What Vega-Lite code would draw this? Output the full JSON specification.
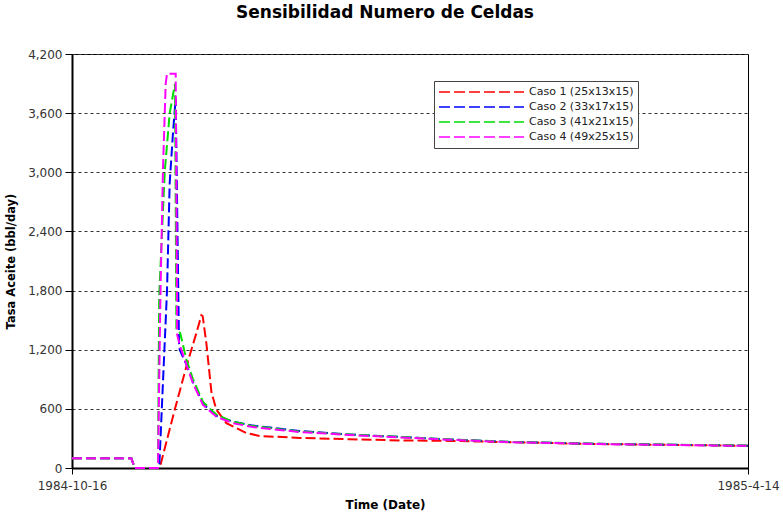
{
  "$schema": "https://vega.github.io/schema/vega-lite/v6.json",
  "width": 676,
  "height": 414,
  "autosize": {"type": "none"},
  "padding": {"left": 72, "top": 54, "right": 35, "bottom": 46},
  "background": "white",
  "title": {
    "text": "Sensibilidad Numero de Celdas",
    "font": "DejaVu Sans",
    "fontSize": 17,
    "fontWeight": "bold",
    "color": "#000000",
    "anchor": "middle",
    "dx": -25,
    "offset": 26
  },
  "config": {
    "font": "DejaVu Sans",
    "view": {"stroke": "#000000", "strokeWidth": 1},
    "axis": {
      "domainColor": "#000000",
      "domainWidth": 2,
      "tickColor": "#000000",
      "tickWidth": 1,
      "labelColor": "#333333",
      "labelFont": "DejaVu Sans",
      "labelFontSize": 12,
      "titleFont": "DejaVu Sans",
      "titleFontSize": 12,
      "titleFontWeight": "bold",
      "titleColor": "#000000"
    },
    "legend": {
      "orient": "none",
      "legendX": 362,
      "legendY": 27,
      "fillColor": "#ffffff",
      "strokeColor": "#444444",
      "padding": 4,
      "symbolType": "stroke",
      "symbolSize": 7225,
      "symbolStrokeWidth": 1.5,
      "symbolDash": [11, 4],
      "clipHeight": 14,
      "rowPadding": 1,
      "labelFont": "DejaVu Sans",
      "labelFontSize": 11,
      "labelColor": "#222222",
      "labelOffset": 4
    }
  },
  "data": {
    "values": [
      {"caso": "Caso 1 (25x13x15)", "fecha": "1984-10-16T00:00", "tasa": 100},
      {"caso": "Caso 1 (25x13x15)", "fecha": "1984-10-31T19:00", "tasa": 100},
      {"caso": "Caso 1 (25x13x15)", "fecha": "1984-11-01T17:00", "tasa": 0},
      {"caso": "Caso 1 (25x13x15)", "fecha": "1984-11-08T08:30", "tasa": 0},
      {"caso": "Caso 1 (25x13x15)", "fecha": "1984-11-09T05:30", "tasa": 130},
      {"caso": "Caso 1 (25x13x15)", "fecha": "1984-11-12T08:20", "tasa": 590},
      {"caso": "Caso 1 (25x13x15)", "fecha": "1984-11-15T11:00", "tasa": 1030},
      {"caso": "Caso 1 (25x13x15)", "fecha": "1984-11-18T03:00", "tasa": 1370},
      {"caso": "Caso 1 (25x13x15)", "fecha": "1984-11-19T11:00", "tasa": 1550},
      {"caso": "Caso 1 (25x13x15)", "fecha": "1984-11-19T19:15", "tasa": 1540},
      {"caso": "Caso 1 (25x13x15)", "fecha": "1984-11-20T19:00", "tasa": 1260},
      {"caso": "Caso 1 (25x13x15)", "fecha": "1984-11-22T03:00", "tasa": 770},
      {"caso": "Caso 1 (25x13x15)", "fecha": "1984-11-23T10:50", "tasa": 590},
      {"caso": "Caso 1 (25x13x15)", "fecha": "1984-11-26T02:40", "tasa": 455},
      {"caso": "Caso 1 (25x13x15)", "fecha": "1984-12-01T10:30", "tasa": 355},
      {"caso": "Caso 1 (25x13x15)", "fecha": "1984-12-04T23:30", "tasa": 325},
      {"caso": "Caso 1 (25x13x15)", "fecha": "1984-12-15T15:00", "tasa": 305},
      {"caso": "Caso 1 (25x13x15)", "fecha": "1984-12-28T22:30", "tasa": 292},
      {"caso": "Caso 1 (25x13x15)", "fecha": "1985-01-11T06:00", "tasa": 280},
      {"caso": "Caso 1 (25x13x15)", "fecha": "1985-01-24T13:30", "tasa": 275},
      {"caso": "Caso 1 (25x13x15)", "fecha": "1985-02-09T13:00", "tasa": 262},
      {"caso": "Caso 1 (25x13x15)", "fecha": "1985-03-05T12:00", "tasa": 243},
      {"caso": "Caso 1 (25x13x15)", "fecha": "1985-04-14T00:00", "tasa": 225},

      {"caso": "Caso 2 (33x17x15)", "fecha": "1984-10-16T00:00", "tasa": 100},
      {"caso": "Caso 2 (33x17x15)", "fecha": "1984-10-31T19:00", "tasa": 100},
      {"caso": "Caso 2 (33x17x15)", "fecha": "1984-11-01T17:00", "tasa": 0},
      {"caso": "Caso 2 (33x17x15)", "fecha": "1984-11-08T05:15", "tasa": 0},
      {"caso": "Caso 2 (33x17x15)", "fecha": "1984-11-09T16:30", "tasa": 1270},
      {"caso": "Caso 2 (33x17x15)", "fecha": "1984-11-10T07:10", "tasa": 1800},
      {"caso": "Caso 2 (33x17x15)", "fecha": "1984-11-11T00:15", "tasa": 2890},
      {"caso": "Caso 2 (33x17x15)", "fecha": "1984-11-11T21:20", "tasa": 3400},
      {"caso": "Caso 2 (33x17x15)", "fecha": "1984-11-12T14:40", "tasa": 3750},
      {"caso": "Caso 2 (33x17x15)", "fecha": "1984-11-13T11:45", "tasa": 1265},
      {"caso": "Caso 2 (33x17x15)", "fecha": "1984-11-13T16:15", "tasa": 1200},
      {"caso": "Caso 2 (33x17x15)", "fecha": "1984-11-15T11:00", "tasa": 1050},
      {"caso": "Caso 2 (33x17x15)", "fecha": "1984-11-17T05:15", "tasa": 870},
      {"caso": "Caso 2 (33x17x15)", "fecha": "1984-11-19T21:10", "tasa": 650},
      {"caso": "Caso 2 (33x17x15)", "fecha": "1984-11-23T10:50", "tasa": 530},
      {"caso": "Caso 2 (33x17x15)", "fecha": "1984-11-27T21:00", "tasa": 470},
      {"caso": "Caso 2 (33x17x15)", "fecha": "1984-12-03T04:50", "tasa": 430},
      {"caso": "Caso 2 (33x17x15)", "fecha": "1984-12-15T15:00", "tasa": 375},
      {"caso": "Caso 2 (33x17x15)", "fecha": "1984-12-28T22:30", "tasa": 340},
      {"caso": "Caso 2 (33x17x15)", "fecha": "1985-01-11T06:00", "tasa": 315},
      {"caso": "Caso 2 (33x17x15)", "fecha": "1985-01-24T13:30", "tasa": 290},
      {"caso": "Caso 2 (33x17x15)", "fecha": "1985-02-09T13:00", "tasa": 265},
      {"caso": "Caso 2 (33x17x15)", "fecha": "1985-03-05T12:00", "tasa": 245},
      {"caso": "Caso 2 (33x17x15)", "fecha": "1985-04-14T00:00", "tasa": 226},

      {"caso": "Caso 3 (41x21x15)", "fecha": "1984-10-16T00:00", "tasa": 100},
      {"caso": "Caso 3 (41x21x15)", "fecha": "1984-10-31T19:00", "tasa": 100},
      {"caso": "Caso 3 (41x21x15)", "fecha": "1984-11-01T17:00", "tasa": 0},
      {"caso": "Caso 3 (41x21x15)", "fecha": "1984-11-07T21:30", "tasa": 0},
      {"caso": "Caso 3 (41x21x15)", "fecha": "1984-11-08T05:15", "tasa": 1750},
      {"caso": "Caso 3 (41x21x15)", "fecha": "1984-11-09T16:30", "tasa": 3000},
      {"caso": "Caso 3 (41x21x15)", "fecha": "1984-11-11T00:15", "tasa": 3600},
      {"caso": "Caso 3 (41x21x15)", "fecha": "1984-11-12T10:20", "tasa": 3900},
      {"caso": "Caso 3 (41x21x15)", "fecha": "1984-11-12T19:10", "tasa": 1400},
      {"caso": "Caso 3 (41x21x15)", "fecha": "1984-11-13T19:30", "tasa": 1370},
      {"caso": "Caso 3 (41x21x15)", "fecha": "1984-11-15T11:00", "tasa": 1100},
      {"caso": "Caso 3 (41x21x15)", "fecha": "1984-11-17T05:15", "tasa": 900},
      {"caso": "Caso 3 (41x21x15)", "fecha": "1984-11-19T21:10", "tasa": 670},
      {"caso": "Caso 3 (41x21x15)", "fecha": "1984-11-23T10:50", "tasa": 540},
      {"caso": "Caso 3 (41x21x15)", "fecha": "1984-11-27T21:00", "tasa": 470},
      {"caso": "Caso 3 (41x21x15)", "fecha": "1984-12-03T04:50", "tasa": 425},
      {"caso": "Caso 3 (41x21x15)", "fecha": "1984-12-15T15:00", "tasa": 370},
      {"caso": "Caso 3 (41x21x15)", "fecha": "1984-12-28T22:30", "tasa": 340},
      {"caso": "Caso 3 (41x21x15)", "fecha": "1985-01-11T06:00", "tasa": 315},
      {"caso": "Caso 3 (41x21x15)", "fecha": "1985-01-24T13:30", "tasa": 290},
      {"caso": "Caso 3 (41x21x15)", "fecha": "1985-02-09T13:00", "tasa": 265},
      {"caso": "Caso 3 (41x21x15)", "fecha": "1985-03-05T12:00", "tasa": 245},
      {"caso": "Caso 3 (41x21x15)", "fecha": "1985-04-14T00:00", "tasa": 228},

      {"caso": "Caso 4 (49x25x15)", "fecha": "1984-10-16T00:00", "tasa": 100},
      {"caso": "Caso 4 (49x25x15)", "fecha": "1984-10-31T19:00", "tasa": 100},
      {"caso": "Caso 4 (49x25x15)", "fecha": "1984-11-01T17:00", "tasa": 0},
      {"caso": "Caso 4 (49x25x15)", "fecha": "1984-11-07T21:30", "tasa": 0},
      {"caso": "Caso 4 (49x25x15)", "fecha": "1984-11-08T13:00", "tasa": 1740},
      {"caso": "Caso 4 (49x25x15)", "fecha": "1984-11-09T05:30", "tasa": 3040},
      {"caso": "Caso 4 (49x25x15)", "fecha": "1984-11-09T22:50", "tasa": 3900},
      {"caso": "Caso 4 (49x25x15)", "fecha": "1984-11-10T07:10", "tasa": 4000},
      {"caso": "Caso 4 (49x25x15)", "fecha": "1984-11-12T14:40", "tasa": 4000},
      {"caso": "Caso 4 (49x25x15)", "fecha": "1984-11-13T00:15", "tasa": 1350},
      {"caso": "Caso 4 (49x25x15)", "fecha": "1984-11-13T16:15", "tasa": 1250},
      {"caso": "Caso 4 (49x25x15)", "fecha": "1984-11-15T11:00", "tasa": 1050},
      {"caso": "Caso 4 (49x25x15)", "fecha": "1984-11-17T05:15", "tasa": 860},
      {"caso": "Caso 4 (49x25x15)", "fecha": "1984-11-19T21:10", "tasa": 640},
      {"caso": "Caso 4 (49x25x15)", "fecha": "1984-11-23T10:50", "tasa": 520},
      {"caso": "Caso 4 (49x25x15)", "fecha": "1984-11-27T21:00", "tasa": 455},
      {"caso": "Caso 4 (49x25x15)", "fecha": "1984-12-03T04:50", "tasa": 415},
      {"caso": "Caso 4 (49x25x15)", "fecha": "1984-12-15T15:00", "tasa": 365},
      {"caso": "Caso 4 (49x25x15)", "fecha": "1984-12-28T22:30", "tasa": 335},
      {"caso": "Caso 4 (49x25x15)", "fecha": "1985-01-11T06:00", "tasa": 310},
      {"caso": "Caso 4 (49x25x15)", "fecha": "1985-01-24T13:30", "tasa": 287},
      {"caso": "Caso 4 (49x25x15)", "fecha": "1985-02-09T13:00", "tasa": 262},
      {"caso": "Caso 4 (49x25x15)", "fecha": "1985-03-05T12:00", "tasa": 243},
      {"caso": "Caso 4 (49x25x15)", "fecha": "1985-04-14T00:00", "tasa": 225}
    ]
  },
  "mark": {"type": "line", "strokeWidth": 2, "strokeDash": [10, 4]},
  "encoding": {
    "x": {
      "field": "fecha",
      "type": "temporal",
      "title": "Time (Date)",
      "scale": {"domain": ["1984-10-16T00:00", "1985-04-14T00:00"], "nice": false},
      "axis": {
        "values": ["1984-10-16T00:00", "1985-04-14T00:00"],
        "labelExpr": "timeFormat(datum.value, '%Y-%-m-%d')",
        "grid": false,
        "tickSize": 6,
        "labelPadding": 6,
        "labelFlush": false,
        "labelOverlap": false,
        "titleX": 313,
        "titleY": 36,
        "titleBaseline": "middle",
        "titleAlign": "center"
      }
    },
    "y": {
      "field": "tasa",
      "type": "quantitative",
      "title": "Tasa Aceite (bbl/day)",
      "scale": {"domain": [0, 4200], "nice": false},
      "axis": {
        "values": [0, 600, 1200, 1800, 2400, 3000, 3600, 4200],
        "format": ",.0f",
        "grid": true,
        "gridColor": "#333333",
        "gridDash": [3, 3],
        "gridWidth": 1,
        "tickSize": 7,
        "labelPadding": 3,
        "titleFontSize": 11.5,
        "titleX": -61,
        "titleY": 207,
        "titleAngle": -90,
        "titleBaseline": "middle",
        "titleAlign": "center"
      }
    },
    "color": {
      "field": "caso",
      "type": "nominal",
      "title": null,
      "scale": {
        "domain": ["Caso 1 (25x13x15)", "Caso 2 (33x17x15)", "Caso 3 (41x21x15)", "Caso 4 (49x25x15)"],
        "range": ["#ff0000", "#0000ff", "#00dd00", "#ff00ff"]
      }
    }
  }
}
